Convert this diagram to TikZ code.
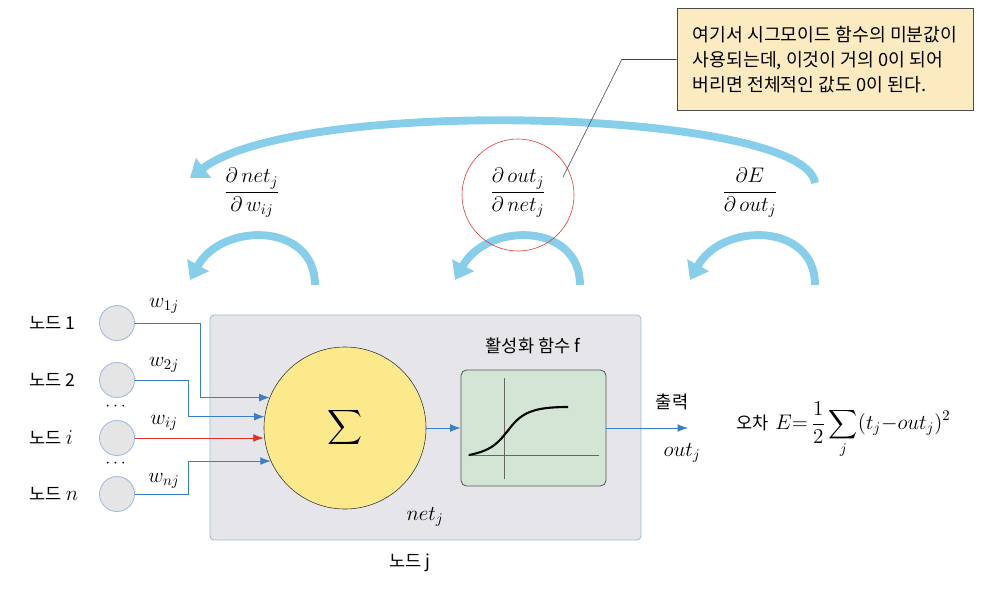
\RequirePackage{fix-cm}
\documentclass[tikz,border=0pt]{standalone}
\usepackage{amsmath}
\usepackage{fontspec}
\newfontfamily\kr{Noto Sans CJK KR}
\usepackage{tikz}
\usetikzlibrary{arrows.meta, positioning, calc}
\definecolor{lineblue}{RGB}{58,125,200}
\definecolor{linered}{RGB}{220,50,45}
\definecolor{backblue}{RGB}{135,206,235}
\definecolor{cellgray}{RGB}{230,230,234}
\definecolor{cellrim}{RGB}{160,185,225}
\definecolor{sumyellow}{RGB}{251,233,140}
\definecolor{actgreen}{RGB}{211,230,214}
\definecolor{notefill}{RGB}{252,234,192}
\newcommand{\krtext}{\kr\fontsize{12.5}{15}\selectfont}
\tikzset{
    txt/.style     = {font=\krtext, inner sep=1pt},
    mth/.style     = {font=\fontsize{15}{18}\selectfont, inner sep=1pt},
    inp/.style     = {circle, draw=cellrim, fill=black!10, semithick,
                      minimum size=0.875cm, inner sep=0pt},
    wire/.style    = {-{Latex[length=2.6mm]}, lineblue, semithick},
    back/.style    = {backblue, line width=5.6pt, -{Triangle[width=17pt,length=12pt]}},
    cellbox/.style = {draw=cellrim, fill=cellgray, rounded corners=3pt, semithick,
                      minimum width=10.775cm, minimum height=5.625cm},
    sumnode/.style = {circle, draw=black!80, fill=sumyellow, minimum size=4.05cm,
                      inner sep=0pt, font=\fontsize{19}{22}\selectfont},
    actbox/.style  = {draw=black!65, fill=actgreen, rounded corners=4pt, semithick,
                      minimum width=3.625cm, minimum height=2.9cm},
    note/.style    = {draw=black!70, fill=notefill, align=left, minimum width=7.4cm,
                      minimum height=2.55cm, font=\kr\fontsize{13}{17.5}\selectfont},
}

\begin{document}
\begin{tikzpicture}[x=0.025cm, y=-0.025cm]
    \useasboundingbox (0,0) rectangle (984,592);
    % neuron j
    \node[cellbox] (cell) at (425.5,427.5) {};
    \node[sumnode] (sum) at (345,428) {$\displaystyle\sum$};
    \node[actbox] (act) at (533.5,428) {};
    \draw[black!60] (504,378) -- (504,479);
    \draw[black!60] (468,455) -- (599,455);
    \draw[line width=1.5pt] (469,455) .. controls (495,450) and (500,440) .. (510,428)
        .. controls (522,412) and (535,407) .. (568,407);
    \node[txt] (actname) at (533,346) {활성화 함수 f};
    \node[mth] (netname) at (425,517) {$net_j$};
    \node[txt] (cellname) at (410,563) {노드 j};
    % inputs
    \node[inp] (in1) at (117,323) {};
    \node[inp] (in2) at (117,380) {};
    \node[inp] (in3) at (117,438) {};
    \node[inp] (in4) at (117,494) {};
    \node[txt, anchor=west] (nm1) at (28,323) {노드 1};
    \node[txt, anchor=west] (nm2) at (28,380) {노드 2};
    \node[txt, anchor=west] (nm3) at (28,438) {노드 {\fontsize{15}{18}\selectfont$i$}};
    \node[txt, anchor=west] (nm4) at (28,494) {노드 {\fontsize{15}{18}\selectfont$n$}};
    \node[txt] (dots1) at (117,407) {$\cdots$};
    \node[txt] (dots2) at (117,464) {$\cdots$};
    \node[mth] (w1) at (164,306) {$w_{1j}$};
    \node[mth] (w2) at (164,365) {$w_{2j}$};
    \node[mth] (w3) at (164,423) {$w_{ij}$};
    \node[mth] (w4) at (164,481) {$w_{nj}$};
    \coordinate (k1) at (200,0);
    \coordinate (k2) at (188,0);
    \draw[wire] (in1.east) -| (k1 |- sum.158) -- (sum.158);
    \draw[wire] (in2.east) -| (k2 |- sum.172) -- (sum.172);
    \draw[wire, linered] (in3.east) -- (sum.west |- in3.east);
    \draw[wire] (in4.east) -| (k2 |- sum.204) -- (sum.204);
    % output
    \draw[wire] (sum.east) -- (act.west);
    \coordinate (out) at (688,428);
    \draw[wire] (act.east) -- (out);
    \node[txt] (outname) at (672,402) {출력};
    \node[mth] (outval) at (682,453) {$out_j$};
    \node[mth, anchor=west] (err) at (735,430)
        {{\krtext 오차} $E{=}\,\dfrac{1}{2}\displaystyle\sum_j(t_j{-}out_j)^2$};
    % backward chain
    \draw[back] (815,183) .. controls (805,110) and (300,95) .. (190,178);
    \foreach \dx in {0,265,500}
        \draw[back] (315+\dx,285) .. controls (315+\dx,222) and (222+\dx,222) .. (190+\dx,280);
    \node[mth] (d1) at (252,193) {$\dfrac{\partial\, net_j}{\partial\, w_{ij}}$};
    \node[mth] (d2) at (518,193) {$\dfrac{\partial\, out_j}{\partial\, net_j}$};
    \node[mth] (d3) at (750,193) {$\dfrac{\partial E}{\partial\, out_j}$};
    \node[circle, draw=linered, minimum size=2.8cm] (ring) at (518,195) {};
    % callout
    \node[note] (note) at (825,59.5)
        {여기서 시그모이드 함수의 미분값이\\사용되는데, 이것이 거의 0이 되어\\버리면 전체적인 값도 0이 된다.};
    \coordinate (tip) at (563,177);
    \draw[black!75] (note.west) -- ++(-55,0) -- (tip);
\end{tikzpicture}
\end{document}
